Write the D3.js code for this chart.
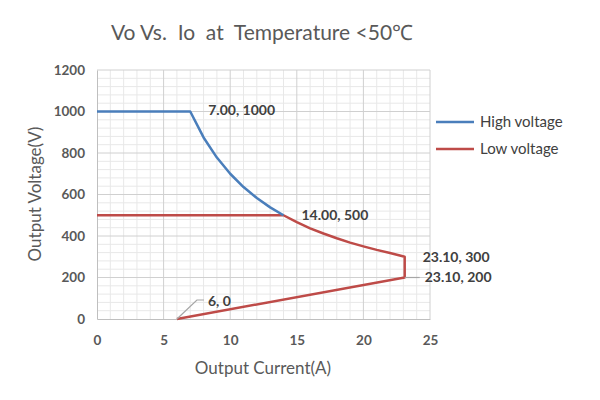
<!DOCTYPE html>
<html>
<head>
<meta charset="utf-8">
<script src="https://cdn.jsdelivr.net/npm/d3@7"></script>
<style>
  body { margin: 0; background: #fff; }
  text { font-family: Lato, "Open Sans", sans-serif; }
</style>
</head>
<body>
<svg id="chart"></svg>
<script>
// values
const highCurrent = [0, 7, 8, 9, 10, 11, 12, 13, 14];
const highVoltage = [1000, 1000, 875, 778, 700, 636, 583, 538, 500];
const lowCurrent = [0, 14, 15, 16, 17, 18, 19, 20, 21, 22, 23.1, 23.1, 6];
const lowVoltage = [500, 500, 467, 437, 412, 389, 368, 350, 333, 318, 300, 200, 0];
const xTicks = [0, 5, 10, 15, 20, 25];
const yTicks = [0, 200, 400, 600, 800, 1000, 1200];
const seriesNames = ['High voltage', 'Low voltage'];
const seriesColors = ['#4a7ebb', '#be4b48'];
const pointLabels = [
  {x: 7, y: 1000, text: '7.00, 1000'},
  {x: 14, y: 500, text: '14.00, 500'},
  {x: 23.1, y: 300, text: '23.10, 300'},
  {x: 23.1, y: 200, text: '23.10, 200'},
  {x: 6, y: 0, text: '6, 0'}
];

const width = 600, height = 400;
const margin = {top: 70, right: 170, bottom: 81, left: 97};
const innerW = width - margin.left - margin.right;
const innerH = height - margin.top - margin.bottom;

const svg = d3.select('#chart')
    .attr('width', width)
    .attr('height', height);

const chart = svg.append('g')
    .attr('transform', `translate(${margin.left},${margin.top})`);

const x = d3.scaleLinear().domain([0, 25]).range([0, innerW]);
const y = d3.scaleLinear().domain([0, 1200]).range([innerH, 0]);

// minor gridlines
chart.append('g')
  .selectAll('line')
  .data(d3.range(1, 25).filter(d => d % 5 !== 0))
  .join('line')
    .attr('x1', d => x(d)).attr('x2', d => x(d))
    .attr('y1', 0).attr('y2', innerH)
    .attr('stroke', '#e8e8e8');

chart.append('g')
  .selectAll('line')
  .data(d3.range(40, 1200, 40).filter(d => d % 200 !== 0))
  .join('line')
    .attr('x1', 0).attr('x2', innerW)
    .attr('y1', d => y(d)).attr('y2', d => y(d))
    .attr('stroke', '#e8e8e8');

// major gridlines
chart.append('g')
  .selectAll('line')
  .data(xTicks.slice(1))
  .join('line')
    .attr('x1', d => x(d)).attr('x2', d => x(d))
    .attr('y1', 0).attr('y2', innerH)
    .attr('stroke', '#d0d0d0');

chart.append('g')
  .selectAll('line')
  .data(yTicks.slice(1))
  .join('line')
    .attr('x1', 0).attr('x2', innerW)
    .attr('y1', d => y(d)).attr('y2', d => y(d))
    .attr('stroke', '#d0d0d0');

// axes
const xAxis = d3.axisBottom(x).tickValues(xTicks).tickSize(0).tickPadding(16)
    .tickFormat(d3.format('d'));
const yAxis = d3.axisLeft(y).tickValues(yTicks).tickSize(0).tickPadding(12)
    .tickFormat(d3.format('d'));

const xAxisG = chart.append('g')
    .attr('transform', `translate(0,${innerH})`)
    .call(xAxis);
const yAxisG = chart.append('g').call(yAxis);

[xAxisG, yAxisG].forEach(g => {
  g.select('.domain').attr('stroke', '#bfbfbf');
  g.selectAll('text')
      .attr('fill', '#595959')
      .attr('font-size', 13.5)
      .attr('font-weight', 'bold')
      .style('font-family', 'Lato, sans-serif');
});

// lines
const lineGen = d3.line()
    .x(d => x(d[0]))
    .y(d => y(d[1]));

const series = [
  d3.zip(highCurrent, highVoltage),
  d3.zip(lowCurrent, lowVoltage)
];

// draw low first so high sits on top near the join
chart.append('path')
    .datum(series[1])
    .attr('d', lineGen)
    .attr('fill', 'none')
    .attr('stroke', seriesColors[1])
    .attr('stroke-width', 2.5)
    .attr('stroke-linejoin', 'round');

chart.append('path')
    .datum(series[0])
    .attr('d', lineGen)
    .attr('fill', 'none')
    .attr('stroke', seriesColors[0])
    .attr('stroke-width', 2.5)
    .attr('stroke-linejoin', 'round');

// leader lines for two of the labels
const leader = d3.line();
chart.append('path')
    .attr('d', leader([[x(6), y(0)], [x(6) + 20, y(0) - 19], [x(6) + 27, y(0) - 19]]))
    .attr('fill', 'none')
    .attr('stroke', '#a6a6a6')
    .attr('stroke-width', 1.2);
chart.append('path')
    .attr('d', leader([[x(23.1), y(200)], [x(23.1) + 15, y(200)]]))
    .attr('fill', 'none')
    .attr('stroke', '#a6a6a6')
    .attr('stroke-width', 1.2);

// data labels
const labelOffsets = [
  {dx: 18, dy: -1},
  {dx: 18, dy: 0},
  {dx: 18, dy: 0},
  {dx: 20, dy: 0},
  {dx: 31, dy: -18}
];
chart.append('g')
  .selectAll('text')
  .data(pointLabels)
  .join('text')
    .attr('x', (d, i) => x(d.x) + labelOffsets[i].dx)
    .attr('y', (d, i) => y(d.y) + labelOffsets[i].dy)
    .attr('dy', '0.35em')
    .attr('fill', '#404040')
    .attr('font-size', 14)
    .attr('font-weight', 'bold')
    .text(d => d.text);

// title
svg.append('text')
    .attr('x', 262)
    .attr('y', 33)
    .attr('dy', '0.35em')
    .attr('text-anchor', 'middle')
    .attr('fill', '#595959')
    .attr('font-size', 21)
    .style('white-space', 'pre')
    .text('Vo Vs.  Io  at  Temperature <50\u2103');

// axis titles
svg.append('text')
    .attr('x', 263)
    .attr('y', 368)
    .attr('dy', '0.35em')
    .attr('text-anchor', 'middle')
    .attr('fill', '#595959')
    .attr('font-size', 17)
    .text('Output Current(A)');

svg.append('text')
    .attr('transform', 'translate(35,194) rotate(-90)')
    .attr('dy', '0.35em')
    .attr('text-anchor', 'middle')
    .attr('fill', '#595959')
    .attr('font-size', 17)
    .text('Output Voltage(V)');

// legend
const legend = svg.append('g')
    .attr('transform', 'translate(436,122)');
const legendItems = legend.selectAll('g')
    .data(seriesNames)
    .join('g')
    .attr('transform', (d, i) => `translate(0,${i * 27})`);
legendItems.append('line')
    .attr('x1', 0).attr('x2', 38)
    .attr('stroke', (d, i) => seriesColors[i])
    .attr('stroke-width', 2.5);
legendItems.append('text')
    .attr('x', 44)
    .attr('dy', '0.35em')
    .attr('fill', '#404040')
    .attr('font-size', 15)
    .text(d => d);
</script>
</body>
</html>
